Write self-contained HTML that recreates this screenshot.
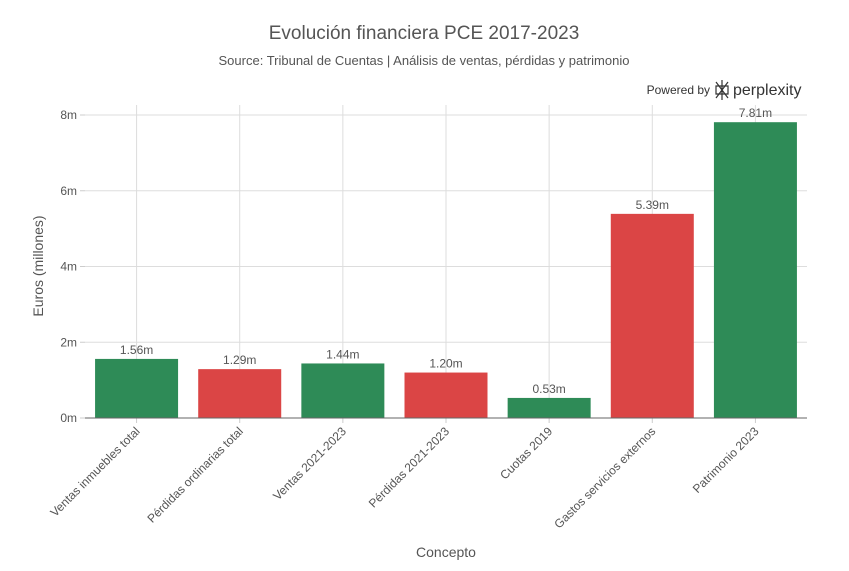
<!DOCTYPE html>
<html><head><meta charset="utf-8"><style>
body{margin:0;background:#fff;font-family:"Liberation Sans",sans-serif}
svg text{font-family:"Liberation Sans",sans-serif}
</style></head><body>
<svg width="849" height="566" xmlns="http://www.w3.org/2000/svg">
<text x="424" y="39" text-anchor="middle" font-size="19" fill="#555">Evolución financiera PCE 2017-2023</text>
<text x="424" y="65" text-anchor="middle" font-size="13" fill="#555">Source: Tribunal de Cuentas | Análisis de ventas, pérdidas y patrimonio</text>
<g>
<text x="710" y="94" text-anchor="end" font-size="12" fill="#333">Powered by</text>
<g stroke="#333" stroke-width="1.2" fill="none"><path d="M716 82 L728 98 M728 82 L716 98 M722 80 V100 M716 86 H728 V94 H716 Z"/></g>
<text x="733" y="95" font-size="16" fill="#333">perplexity</text>
</g>
<g id="grid"></g><g id="bars"></g><g id="axes"></g>
<text x="446" y="557" text-anchor="middle" font-size="14" fill="#555">Concepto</text>
<text transform="translate(43,266) rotate(-90)" text-anchor="middle" font-size="14" fill="#555">Euros (millones)</text>
</svg>
<script>
const categories=["Ventas inmuebles total","Pérdidas ordinarias total","Ventas 2021-2023","Pérdidas 2021-2023","Cuotas 2019","Gastos servicios externos","Patrimonio 2023"];
const values=[1.56,1.29,1.44,1.20,0.53,5.39,7.81];
const kinds=["gain","loss","gain","loss","gain","loss","gain"];
const yTicks=[0,2,4,6,8];
const NS="http://www.w3.org/2000/svg";
const x0=85,x1=807,yTop=115,yBot=418,yMax=8;
const band=(x1-x0)/categories.length;
const y=v=>yBot-(v/yMax)*(yBot-yTop);
const xc=i=>x0+band*(i+0.5);
function mk(t,a,p){const e=document.createElementNS(NS,t);for(const k in a)e.setAttribute(k,a[k]);p.appendChild(e);return e;}
const g=document.getElementById('grid'),b=document.getElementById('bars'),ax=document.getElementById('axes');
yTicks.forEach(v=>{
 if(v>0){const l=mk('line',{x1:x0,x2:x1,y1:y(v),y2:y(v),stroke:'#ddd'},g);
 
 }
 mk('line',{x1:x0-5,x2:x0,y1:y(v),y2:y(v),stroke:'#ccc'},ax);
 const t=mk('text',{x:x0-8,y:y(v)+4,'text-anchor':'end','font-size':12,fill:'#555'},ax);t.textContent=v+'m';
 
 
});
categories.forEach((c,i)=>{
 const gl=mk('line',{x1:xc(i),x2:xc(i),y1:yTop-10,y2:yBot,stroke:'#ddd'},g);
 
 
 const r=mk('rect',{x:xc(i)-41.5,width:83,y:y(values[i]),height:yBot-y(values[i]),fill:kinds[i]=='gain'?'#2E8B57':'#DB4545'},b);
 
 
 const vt=mk('text',{x:xc(i),y:y(values[i])-5,'text-anchor':'middle','font-size':12,fill:'#555'},b);vt.textContent=values[i].toFixed(2)+'m';
 
 
 mk('line',{x1:xc(i),x2:xc(i),y1:yBot,y2:yBot+5,stroke:'#ccc'},ax);
 const lt=mk('text',{transform:`translate(${xc(i)+4},${yBot+14}) rotate(-45)`,'text-anchor':'end','font-size':12,fill:'#555'},ax);lt.textContent=c;
 
 
});
const al=mk('line',{x1:x0,x2:x1,y1:yBot,y2:yBot,stroke:'#666'},ax);


</script>
</body></html>
